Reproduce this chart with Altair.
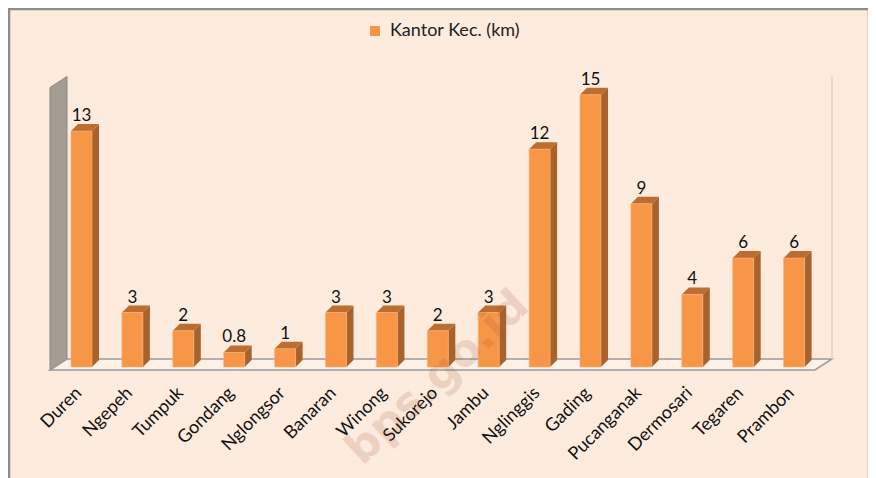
import altair as alt
import pandas as pd

# ---- data ----
names = ["Duren", "Ngepeh", "Tumpuk", "Gondang", "Nglongsor", "Banaran", "Winong",
         "Sukorejo", "Jambu", "Nglinggis", "Gading", "Pucanganak", "Dermosari",
         "Tegaren", "Prambon"]
values = [13, 3, 2, 0.8, 1, 3, 3, 2, 3, 12, 15, 9, 4, 6, 6]
series_name = "Kantor Kec. (km)"

# ---- geometry / style constants ----
W, H = 783, 300
PX_X = 50.9          # pixels per category step
PX_Y = 18.15         # pixels per km
X_MIN = -0.619
X_MAX = X_MIN + W / PX_X
Y_MIN = -3 / PX_Y
Y_MAX = Y_MIN + H / PX_Y
ux, uy = 1 / PX_X, 1 / PX_Y
HALF = 10.5 * ux      # half bar width
DX, DY = 7 * ux, 7 * uy          # bar depth
WDX, WDY = 17 * ux, 11 * uy      # wall/floor depth
AXIS_TOP = 16

FRONT = "#F79646"
SIDE = "#A8632D"
TOP = "#BC6E31"
BG = "#FDEBDD"

def fmt(v):
    return str(int(v)) if float(v).is_integer() else str(v)

idx = list(range(len(names)))

front = pd.DataFrame({"x": [i - HALF for i in idx], "x2": [i + HALF for i in idx],
                      "y": [0] * len(idx), "y2": values, "series": [series_name] * len(idx)})

side_rows, top_rows = [], []
for i, v in zip(idx, values):
    side_rows.append({"k": i, "x": i + HALF, "y": 0, "y2": v})
    side_rows.append({"k": i, "x": i + HALF + DX, "y": DY, "y2": v + DY})
    top_rows.append({"k": i, "y": v, "x": i - HALF, "x2": i + HALF})
    top_rows.append({"k": i, "y": v + DY, "x": i - HALF + DX, "x2": i + HALF + DX})
side = pd.DataFrame(side_rows)
topf = pd.DataFrame(top_rows)

labels = pd.DataFrame({"x": idx, "y": values, "t": [fmt(v) for v in values]})

wall_front_top = AXIS_TOP - 0.6
wall = pd.DataFrame({"x": [X_MIN, X_MIN + WDX],
                     "y": [Y_MIN, Y_MIN + WDY],
                     "y2": [wall_front_top, wall_front_top + WDY]})
floor_right = len(names) - 1 + 0.41
floor = pd.DataFrame({"y": [Y_MIN, Y_MIN + WDY],
                      "x": [X_MIN, X_MIN + WDX],
                      "x2": [floor_right, floor_right + WDX]})
backline = pd.DataFrame({"x": [floor_right + WDX], "y": [Y_MIN + WDY], "y2": [wall_front_top + WDY]})

xs = alt.Scale(domain=[X_MIN, X_MAX], nice=False, zero=False)
ys = alt.Scale(domain=[Y_MIN, Y_MAX], nice=False, zero=False)
name_arr = "[" + ",".join("'" + n + "'" for n in names) + "]"
xaxis = alt.Axis(values=idx, labelExpr=name_arr + "[datum.value]", title=None,
                 domain=False, ticks=False, grid=False, labelAngle=-45,
                 labelAlign="right", labelBaseline="middle", labelPadding=20,
                 labelOffset=-3,
                 labelFont="Lato", labelFontSize=18, labelColor="#111111",
                 labelOverlap=False, labelFlush=False, labelBound=False)

X = lambda f="x": alt.X(f + ":Q", scale=xs, axis=xaxis)
Y = lambda f="y": alt.Y(f + ":Q", scale=ys, axis=None)

wall_l = alt.Chart(wall).mark_area(color="#A59C93", stroke="#8E8780", strokeWidth=1).encode(
    x=X(), y=Y(), y2="y2:Q")
floor_l = alt.Chart(floor).mark_area(orient="horizontal", color="#FDF0E6", stroke="#9A9A9A",
                                     strokeWidth=1.5).encode(x=X(), x2="x2:Q", y=Y())
back_l = alt.Chart(backline).mark_rule(color="#E9CFC0", strokeWidth=1.5).encode(
    x=X(), y=Y(), y2="y2:Q")
side_l = alt.Chart(side).mark_area(color=SIDE).encode(x=X(), y=Y(), y2="y2:Q", detail="k:N")
top_l = alt.Chart(topf).mark_area(orient="horizontal", color=TOP).encode(
    x=X(), x2="x2:Q", y=Y(), detail="k:N")
front_l = alt.Chart(front).mark_bar(stroke="#FBB07A", strokeWidth=0.6).encode(
    x=X(), x2="x2:Q", y=Y(), y2="y2:Q",
    color=alt.Color("series:N", scale=alt.Scale(range=[FRONT]),
                    legend=alt.Legend(title=None, orient="none", legendX=316, legendY=-48,
                                      symbolType="square", symbolSize=100,
                                      symbolStrokeWidth=0, labelFont="Lato",
                                      labelFontSize=18, labelColor="#222222", padding=0,
                                      labelOffset=6)))
text_l = alt.Chart(labels).mark_text(dy=-10, baseline="alphabetic", font="Lato", fontSize=17,
                                     color="#111111").encode(x=X(), y=Y(), text="t:N")
wm = alt.Chart(pd.DataFrame({"x": [7.0], "y": [-0.6], "t": ["bps.go.id"]})).mark_text(
    angle=317, font="DejaVu Sans", fontWeight="bold", fontSize=44, color="#A0522D",
    opacity=0.16).encode(x=X(), y=Y(), text="t:N")
frame = alt.Chart(pd.DataFrame({"a": [0]})).mark_rect(
    fill=None, stroke="#8C8C8C", strokeWidth=2.5).encode(
    x=alt.value(-41), x2=alt.value(819), y=alt.value(-61), y2=alt.value(440))

chart = alt.layer(frame, wall_l, floor_l, back_l, side_l, top_l, front_l, text_l, wm).properties(
    width=W, height=H,
    autosize=alt.AutoSizeParams(type="none"),
    padding={"left": 42, "top": 62, "right": 35, "bottom": 110},
    background=BG,
).configure_view(stroke=None)

chart.save("out.html", embed_options={"renderer": "svg", "actions": False})
